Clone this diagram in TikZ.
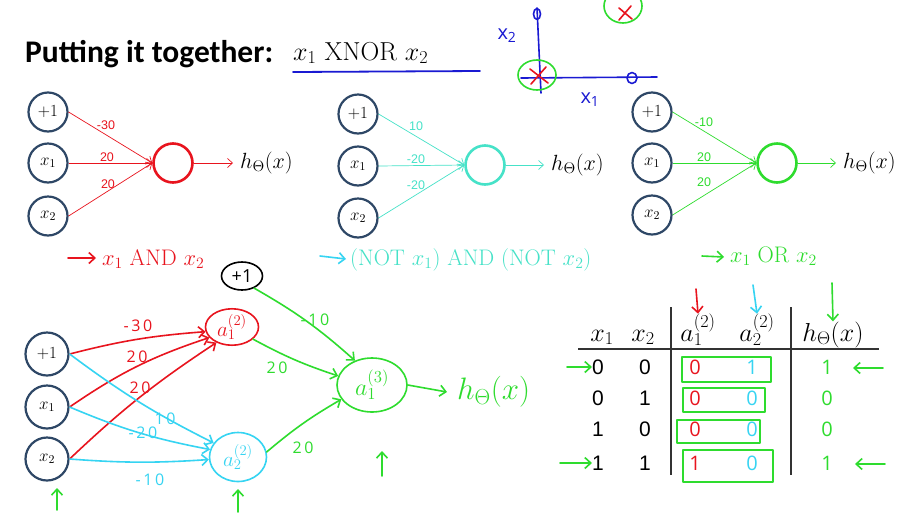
\RequirePackage{fix-cm}
\documentclass[tikz,border=0pt]{standalone}
\usepackage{fontspec}
\newfontfamily\titlefont{Carlito}
\newfontfamily\tabfont{Liberation Sans}
\newfontfamily\hand{Open Sans}
\usetikzlibrary{arrows.meta,shapes.geometric}
\definecolor{inblue}{HTML}{2E4766}
\definecolor{cred}{HTML}{E8141E}
\definecolor{cturq}{HTML}{46E2C8}
\definecolor{ccyan}{HTML}{36D4F2}
\definecolor{cgreen}{HTML}{2EDC2E}
\definecolor{cblue}{HTML}{1A1AD2}
\begin{document}
\begin{tikzpicture}[x=1pt,y=-1pt,
 inp/.style={circle,draw=inblue,line width=2.2pt,minimum size=39pt,inner sep=0pt,font=\fontsize{17}{17}\selectfont},
 inpb/.style={inp,minimum size=43pt},
 outn/.style={circle,line width=2.6pt,minimum size=39pt,inner sep=0pt},
 edge/.style={-{Straight Barb[length=5pt,width=9pt]},line width=0.7pt},
 wt/.style={font=\tabfont\fontsize{12.5}{12.5}\selectfont,inner sep=0pt},
 lbl/.style={font=\fontsize{22.5}{22.5}\selectfont,anchor=base west,inner sep=0pt},
 hw/.style={line width=1.6pt,line cap=round,line join=round},
 hwa/.style={hw,-{Straight Barb[length=6pt,width=11pt]}},
 hwt/.style={font=\hand\fontsize{16}{16}\selectfont,inner sep=0pt},
 tnum/.style={font=\tabfont\fontsize{21}{21}\selectfont,inner sep=0pt},
 hnum/.style={font=\hand\fontsize{20}{20}\selectfont,inner sep=0pt},
 hout/.style={anchor=west,inner sep=0pt,font=\fontsize{22}{22}\selectfont},
 thead/.style={anchor=base,inner sep=0pt,font=\fontsize{26}{26}\selectfont},
]
\useasboundingbox (0,0) rectangle (907,520);
\fill[white] (0,0) rectangle (907,520);

% ---------- title ----------
\node[anchor=base west,inner sep=0pt,font=\titlefont\bfseries\fontsize{31.5}{31.5}\selectfont] (title) at (25,62) {Putting it together:};
\node[anchor=base west,inner sep=0pt,font=\fontsize{26}{26}\selectfont] (xnor) at (293,60) {$x_1$\hspace{8pt}XNOR\hspace{8pt}$x_2$};
\coordinate (ulL) at (293,72);
\coordinate (ulR) at (480,71);
\draw[cblue,line width=1.8pt,line cap=round] (ulL) -- (ulR);

% ---------- XNOR sketch ----------
\draw[cblue,hw] (537,8) -- (541,93);
\draw[cblue,hw] (521,78) -- (657,77);
\draw[cblue,hw] (537,14) ellipse (3.5 and 5.5);
\draw[cblue,hw] (632,78) ellipse (5 and 5.5);
\draw[cgreen,hw] (537,75) ellipse (19 and 15);
\draw[cred,hw] (530,69) -- (548,83);
\draw[cred,hw] (546,67) -- (531,84);
\draw[cgreen,hw] (623,6) ellipse (19 and 17);
\draw[cred,hw] (619,8) -- (632,19);
\draw[cred,hw] (631,6) -- (619,20);
\node[cblue,hwt,font=\hand\fontsize{20}{20}\selectfont] (lx2) at (507,36) {x\textsubscript{2}};
\node[cblue,hwt,font=\hand\fontsize{20}{20}\selectfont] (lx1) at (590,100) {x\textsubscript{1}};

% ---------- AND network ----------
\node[inp] (ap) at (48,112) {$+1$};
\node[inp] (ax) at (48,163) {$x_1$};
\node[inp] (ay) at (48,216) {$x_2$};
\node[outn,draw=cred] (ao) at (173,163) {};
\node[hout] (ah) at (240,163) {$h_\Theta(x)$};
\draw[edge,cred] (ap.east) -- (ao.west);
\draw[edge,cred] (ax.east) -- (ao.west);
\draw[edge,cred] (ay.east) -- (ao.west);
\draw[edge,cred] (ao.east) -- ([xshift=-7pt]ah.west);
\node[wt,cred] (aw1) at (106,125) {-30};
\node[wt,cred] (aw2) at (107,157) {20};
\node[wt,cred] (aw3) at (108,184) {20};
\coordinate (aarr0) at (68,258);
\coordinate (aarr1) at (96,258);
\draw[hwa,cred] (aarr0) -- (aarr1);
\node[lbl,cred] (alab) at (102,265) {$x_1$ AND $x_2$};

% ---------- NOR network ----------
\node[inp] (np) at (358,114) {$+1$};
\node[inp] (nx) at (358,166) {$x_1$};
\node[inp] (ny) at (358,218) {$x_2$};
\node[outn,draw=cturq] (no) at (485,165) {};
\node[hout] (nh) at (551,165) {$h_\Theta(x)$};
\draw[edge,cturq] (np.east) -- (no.west);
\draw[edge,cturq] (nx.east) -- (no.west);
\draw[edge,cturq] (ny.east) -- (no.west);
\draw[edge,cturq] (no.east) -- ([xshift=-7pt]nh.west);
\node[wt,cturq] (nw1) at (416,126) {10};
\node[wt,cturq] (nw2) at (416,159) {-20};
\node[wt,cturq] (nw3) at (416,185) {-20};
\coordinate (narr0) at (320,256);
\coordinate (narr1) at (346,259);
\draw[hwa,ccyan] (narr0) -- (narr1);
\node[lbl,cturq] (nlab) at (350,265) {(NOT $x_1$) AND (NOT $x_2$)};

% ---------- OR network ----------
\node[inp] (op) at (652,112) {$+1$};
\node[inp] (ox) at (652,163) {$x_1$};
\node[inp] (oy) at (652,215) {$x_2$};
\node[outn,draw=cgreen] (oo) at (777,163) {};
\node[hout] (oh) at (843,163) {$h_\Theta(x)$};
\draw[edge,cgreen] (op.east) -- (oo.west);
\draw[edge,cgreen] (ox.east) -- (oo.west);
\draw[edge,cgreen] (oy.east) -- (oo.west);
\draw[edge,cgreen] (oo.east) -- ([xshift=-7pt]oh.west);
\node[wt,cgreen] (ow1) at (704,122) {-10};
\node[wt,cgreen] (ow2) at (704,157) {20};
\node[wt,cgreen] (ow3) at (704,182) {20};
\coordinate (oarr0) at (702,256);
\coordinate (oarr1) at (724,257);
\draw[hwa,cgreen] (oarr0) -- (oarr1);
\node[lbl,cgreen] (olab) at (730,262) {$x_1$ OR $x_2$};

% ---------- XNOR network ----------
\node[inpb] (bp) at (47,354) {$+1$};
\node[inpb] (bx) at (47,407) {$x_1$};
\node[inpb] (by) at (47,459) {$x_2$};
\node[ellipse,draw=cred,hw,minimum width=53pt,minimum height=36pt,inner sep=0pt,text=cred,font=\fontsize{21}{21}\selectfont] (b1) at (232,327) {$a^{(2)}_1$};
\node[ellipse,draw=ccyan,hw,minimum width=57pt,minimum height=49pt,inner sep=0pt,text=ccyan,font=\fontsize{21}{21}\selectfont] (b2) at (238,457) {$a^{(2)}_2$};
\node[ellipse,draw=black,hw,minimum width=41pt,minimum height=28pt,inner sep=0pt,font=\hand\fontsize{18}{18}\selectfont] (bb) at (242,276) {+1};
\node[ellipse,draw=cgreen,hw,minimum width=70pt,minimum height=54pt,inner sep=0pt,text=cgreen,font=\fontsize{24}{24}\selectfont] (b3) at (372,385) {$a^{(3)}_1$};
\node[anchor=west,inner sep=0pt,text=cgreen,font=\fontsize{31}{31}\selectfont] (bh) at (457,392) {$h_{\Theta}(x)$};

\draw[hwa,cred] (bp.east) to[bend left=5] (b1.190);
\draw[hwa,cred] (bx.east) to[bend left=8] (b1.205);
\draw[hwa,cred] (by.east) to[bend left=5] (b1.225);
\draw[hwa,ccyan] (bp.east) to[bend right=5] (b2.150);
\draw[hwa,ccyan] (bx.east) to[bend right=6] (b2.165);
\draw[hwa,ccyan] (by.east) to[bend right=4] (b2.185);
\draw[hwa,cgreen] (bb.-45) to[bend left=6] (b3.125);
\draw[hwa,cgreen] (b1.-30) to[bend right=5] (b3.165);
\draw[hwa,cgreen] (b2.10) to[bend left=5] (b3.205);
\draw[hwa,cgreen] (b3.east) -- ([xshift=-10pt]bh.west);

\node[hwt,cred] (bw1) at (138,326) {-\,3\,0};
\node[hwt,cred] (bw2) at (137,357) {2\,0};
\node[hwt,cred] (bw3) at (140,388) {2\,0};
\node[hwt,ccyan] (bw4) at (165,419) {1\,0};
\node[hwt,ccyan] (bw5) at (143,433) {-\,2\,0};
\node[hwt,ccyan] (bw6) at (150,480) {-\,1\,0};
\node[hwt,cgreen] (bw7) at (315,320) {-\,1\,0};
\node[hwt,cgreen] (bw8) at (277,368) {2\,0};
\node[hwt,cgreen] (bw9) at (303,448) {2\,0};

\coordinate (up1a) at (57,510); \coordinate (up1b) at (57,488);
\coordinate (up2a) at (238,512); \coordinate (up2b) at (238,489);
\coordinate (up3a) at (382,476); \coordinate (up3b) at (382,451);
\draw[hwa,cgreen] (up1a) -- (up1b);
\draw[hwa,cgreen] (up2a) -- (up2b);
\draw[hwa,cgreen] (up3a) -- (up3b);

% ---------- truth table ----------
\node[thead] (tx1) at (602,341) {$x_1$};
\node[thead] (tx2) at (643,341) {$x_2$};
\node[thead] (ta1) at (698,341) {$a^{(2)}_1$};
\node[thead] (ta2) at (757,341) {$a^{(2)}_2$};
\node[thead] (th) at (833,341) {$h_\Theta(x)$};
\coordinate (vl1t) at (671,307); \coordinate (vl1b) at (671,475);
\coordinate (vl2t) at (791,307); \coordinate (vl2b) at (791,475);
\coordinate (hlL) at (578,349); \coordinate (hlR) at (879,349);
\draw[line width=1.6pt,black!80] (vl1t) -- (vl1b);
\draw[line width=1.6pt,black!80] (vl2t) -- (vl2b);
\draw[line width=1.6pt,black!80] (hlL) -- (hlR);

\foreach \y/\p/\q/\r/\s/\t [count=\i] in {367/0/0/0/1/1, 398/0/1/0/0/0, 429/1/0/0/0/0, 463/1/1/1/0/1}{
  \node[tnum] (r\i x1) at (598,\y) {\p};
  \node[tnum] (r\i x2) at (645,\y) {\q};
  \node[hnum,cred] (r\i a1) at (695,\y) {\r};
  \node[hnum,ccyan] (r\i a2) at (752,\y) {\s};
  \node[hnum,cgreen] (r\i h) at (827,\y) {\t};
}
\draw[hw,cgreen] (682,357) rectangle (771,382);
\draw[hw,cgreen] (683,388) rectangle (765,412);
\draw[hw,cgreen] (677,420) rectangle (760,443);
\draw[hw,cgreen] (683,450) rectangle (773,482);

\draw[hwa,cgreen] (567,367) -- (r1x1.west);
\draw[hwa,cgreen] (560,463) -- (r4x1.west);
\coordinate (ra1) at (883,368); \coordinate (ra1e) at (853,368);
\coordinate (ra4) at (885,464); \coordinate (ra4e) at (855,464);
\draw[hwa,cgreen] (ra1) -- (ra1e);
\draw[hwa,cgreen] (ra4) -- (ra4e);
\draw[hwa,cred] (696,289) -- (ta1.north);
\draw[hwa,ccyan] (753,285) -- (ta2.north);
\draw[hwa,cgreen] (832,283) -- (th.north);
\end{tikzpicture}
\end{document}
